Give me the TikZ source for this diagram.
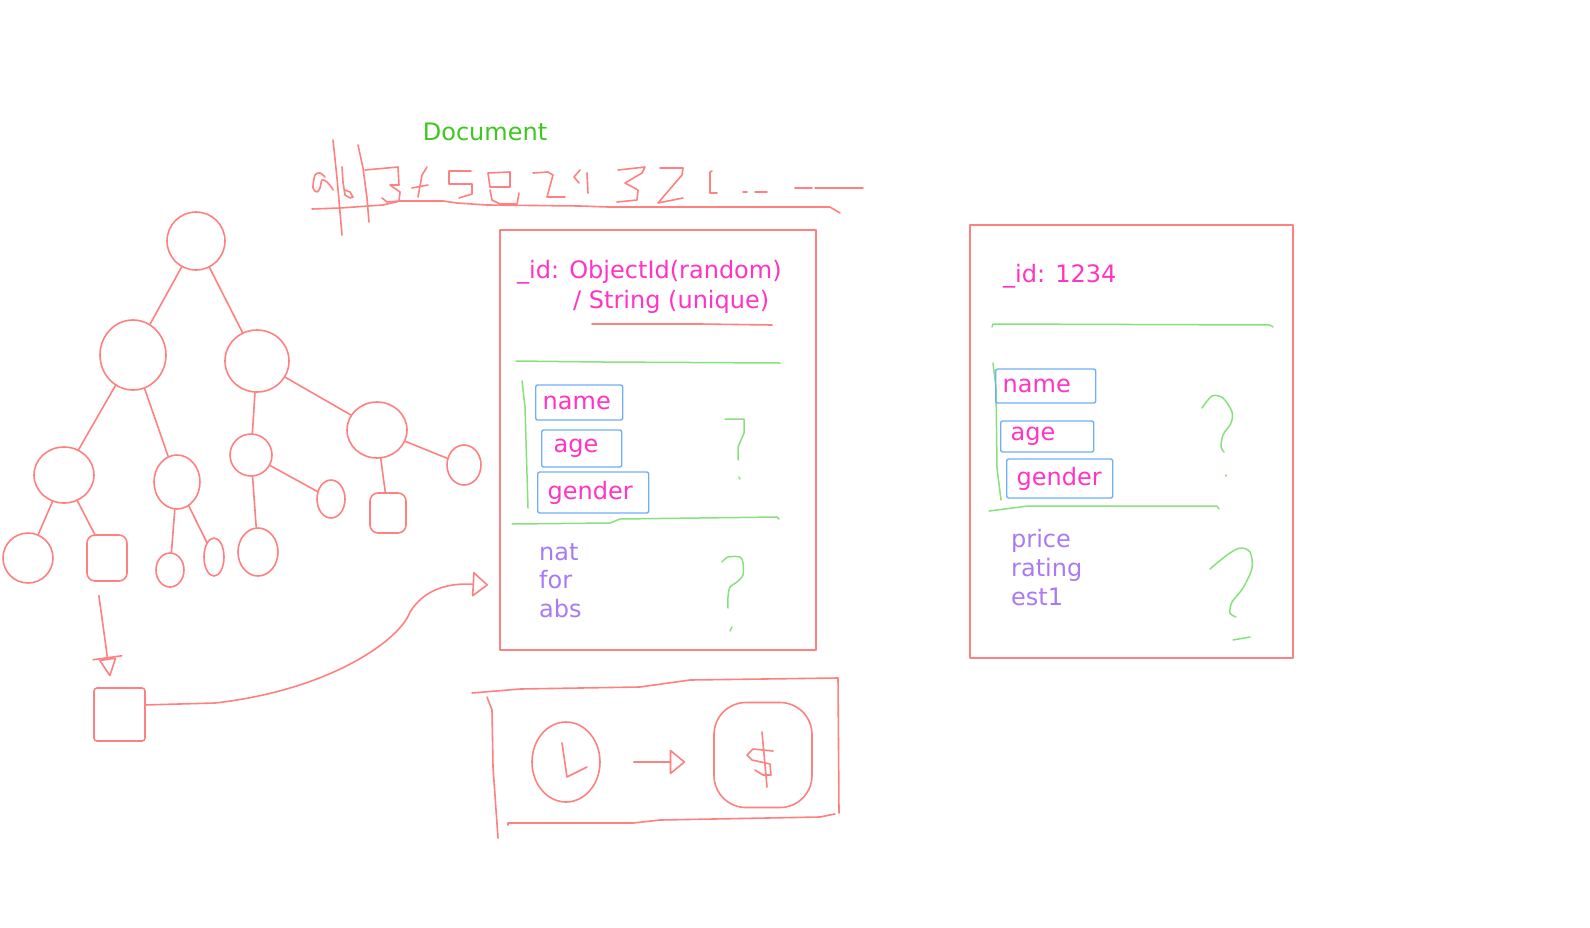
\documentclass[tikz,border=0pt]{standalone}
\usepackage{fontspec}
\setmainfont{DejaVu Sans}
\usepackage{tikz}
\usetikzlibrary{arrows.meta,shapes.geometric}
\definecolor{sketchRed}{HTML}{FF8080}
\definecolor{inkPink}{HTML}{FF33C4}
\definecolor{inkPurple}{HTML}{A97AF3}
\definecolor{inkGreen}{HTML}{88E07C}
\definecolor{docGreen}{HTML}{3CC81E}
\definecolor{inkBlue}{HTML}{70AEF8}

\begin{document}
\begin{tikzpicture}[
  x=1bp,y=-1bp,line cap=round,line join=round,
  pen/.style={draw=sketchRed,line width=1.6bp},
  chalk/.style={draw=inkGreen,line width=1.5bp},
  knot/.style={ellipse,draw=sketchRed,line width=1.6bp,inner sep=0pt},
  plate/.style={rectangle,draw=sketchRed,line width=1.6bp,inner sep=0pt},
  field/.style={rectangle,draw=inkBlue,line width=1.4bp,rounded corners=2bp,
    text=inkPink,anchor=west,align=left,inner ysep=0pt,
    font=\fontsize{24bp}{29bp}\selectfont},
  idtext/.style={text=inkPink,anchor=base west,inner sep=0pt,
    font=\fontsize{24bp}{29bp}\selectfont},
  extra/.style={text=inkPurple,anchor=base west,inner sep=0pt,
    font=\fontsize{24bp}{29bp}\selectfont},
  harrow/.style={-{Triangle[open,round,length=16bp,width=26bp,line width=1.6bp]}},
  tarrow/.style={-{Bar[width=30bp,sep=0pt,line width=1.6bp]Triangle[open,round,length=19bp,width=18bp,sep=0pt,line width=1.6bp]}}
]
\useasboundingbox (0,0) rectangle (1590,927);

% handwritten id
\node[text=docGreen,anchor=base,inner sep=0pt,font=\fontsize{24bp}{29bp}\selectfont] (title) at (485,140) {Document};
\draw[pen] (312,209) -- (340,208) -- (383,205) -- (400,201) -- (443,201) -- (457,203) -- (487,205)
  -- (580,206) -- (608,207) -- (725,207) -- (830,207) -- (840,213);
\draw[pen] (333,140) -- (337,178) -- (340,212) -- (342,235);
\draw[pen] (358,145) -- (363,168) -- (367,198) -- (369,222);
\draw[pen] plot[smooth] coordinates {(325,177) (320,173) (315,175) (313,188) (317,192) (320,188) (322,180) (327,182) (332,188) (333,190)};
\draw[pen] (342,167) -- (343,182) -- (345,195) -- (350,198) -- (353,197) -- (350,192) -- (345,190);
\draw[pen] (365,170) -- (398,167) -- (399,185) -- (390,185) -- (400,192) -- (399,201) -- (387,202) -- (382,198);
\draw[pen] (427,167) -- (422,175) -- (418,197); \draw[pen] (412,188) -- (428,185);
\draw[pen] (471,171) -- (449,171) -- (449,184) -- (472,184) -- (472,194) -- (459,198);
\draw[pen] (488,173) -- (510,172) -- (510,187) -- (490,187) -- cycle;
\draw[pen] (490,190) -- (492,200) -- (500,204) -- (517,204) -- (519,193);
\draw[pen] (533,173) -- (548,172) -- (553,175) -- (547,197) -- (565,197);
\draw[pen] (580,170) -- (574,177) -- (579,183); \draw[pen] (587,173) -- (588,193);
\draw[pen] (618,170) -- (645,167) -- (642,173) -- (625,183) -- (638,190) -- (637,200) -- (617,202);
\draw[pen] (660,168) -- (683,168) -- (682,175) -- (658,203) -- (683,198);
\draw[pen] (712,171) -- (710,172) -- (710,193) -- (717,193);
\draw[pen] (743,192) -- (747,192); \draw[pen] (755,192) -- (767,192);
\draw[pen] (795,188) -- (812,188); \draw[pen] (815,188) -- (863,188);

% tree
\node[knot,minimum width=58bp,minimum height=58bp] (root) at (196,241) {};
\node[knot,minimum width=66bp,minimum height=70bp] (l) at (133,355) {};
\node[knot,minimum width=64bp,minimum height=62bp] (r) at (257,361) {};
\node[knot,minimum width=60bp,minimum height=56bp] (ll) at (64,475) {};
\node[knot,minimum width=46bp,minimum height=54bp] (lr) at (177,482) {};
\node[knot,minimum width=42bp,minimum height=42bp] (rl) at (251,455) {};
\node[knot,minimum width=60bp,minimum height=56bp] (rr) at (377,430) {};
\node[knot,minimum width=50bp,minimum height=50bp] (lll) at (28,558) {};
\node[plate,rounded corners=8bp,minimum width=40bp,minimum height=46bp] (llr) at (107,558) {};
\node[knot,minimum width=28bp,minimum height=34bp] (lrl) at (170,570) {};
\node[knot,minimum width=20bp,minimum height=38bp] (lrr) at (214,557) {};
\node[knot,minimum width=40bp,minimum height=48bp] (rld) at (258,552) {};
\node[knot,minimum width=28bp,minimum height=38bp] (rlr) at (331,499) {};
\node[plate,rounded corners=8bp,minimum width=36bp,minimum height=40bp] (rrd) at (388,513) {};
\node[knot,minimum width=34bp,minimum height=40bp] (rrr) at (464,465) {};
\draw[pen] (root) -- (l); \draw[pen] (root) -- (r);
\draw[pen] (l) -- (ll); \draw[pen] (l) -- (lr);
\draw[pen] (r) -- (rl); \draw[pen] (r) -- (rr);
\draw[pen] (ll) -- (lll); \draw[pen] (ll) -- (llr);
\draw[pen] (lr) -- (lrl); \draw[pen] (lr) -- (lrr);
\draw[pen] (rl) -- (rld); \draw[pen] (rl) -- (rlr);
\draw[pen] (rr) -- (rrd); \draw[pen] (rr) -- (rrr);

\node[plate,rounded corners=3bp,minimum width=51bp,minimum height=53bp] (blob) at (119.5,714.5) {};
\draw[pen,tarrow,shorten <=14bp,shorten >=11bp] ([xshift=-10bp]llr.south) -- ([xshift=-8bp]blob.north);
\coordinate (tipA) at (488,585);
\draw[pen,harrow] (blob.20) -- (215,703) .. controls (330,690) and (400,640) .. (410,612)
  .. controls (425,588) and (450,583) .. (tipA);

% documents
\node[plate,minimum width=316bp,minimum height=420bp] (doc1) at (658,440) {};
\node[plate,minimum width=323bp,minimum height=433bp] (doc2) at (1131.5,441.5) {};

\node[idtext] (id1) at (517,278) {\_id: ObjectId(random)};
\node[idtext] (id1b) at (573,308) {/ String (unique)};
\draw[pen] (592,324) -- (700,324) -- (772,325);
\draw[chalk] (516,361) -- (602,362) -- (780,363);
\draw[chalk] (522,381) -- (525,407) -- (528,508);
\node[field,inner xsep=7bp,text width=73bp,minimum height=35bp] (name1) at (535,402.5) {name};
\node[field,inner xsep=12bp,text width=56bp,minimum height=37bp] (age1) at (541,448.5) {age};
\node[field,inner xsep=10bp,text width=91bp,minimum height=41bp] (gender1) at (537,492.5) {gender};
\draw[chalk] (512,524) -- (610,523) -- (620,519) -- (777,517) -- (779,519);
\draw[chalk] (725,419) -- (744,419) -- (744,433) -- (738,447) -- (738,460);
\draw[chalk] (739,477) -- (740,479);
\foreach \t [count=\i] in {nat,for,abs}
  \node[extra] (more1-\i) at (539,{560+28.5*(\i-1)}) {\t};
\draw[chalk] plot[smooth] coordinates {(722,562) (728,557) (740,557) (743,563) (743,575) (737,582) (730,587) (728,597) (728,608)};
\draw[chalk] (730,631) -- (732,627);

\node[idtext] (id2) at (1003,282) {\_id: 1234};
\draw[chalk] (992,327) -- (993,324) -- (1270,325) -- (1273,327);
\draw[chalk] (993,363) -- (996,388) -- (997,468) -- (1001,500);
\node[field,inner xsep=7bp,text width=86bp,minimum height=34bp] (name2) at (995,386) {name};
\node[field,inner xsep=10bp,text width=73bp,minimum height=31bp] (age2) at (1000,436.5) {age};
\node[field,inner xsep=10bp,text width=86bp,minimum height=39bp] (gender2) at (1006,478.5) {gender};
\draw[chalk] (989,511) -- (1028,506) -- (1217,506) -- (1219,509);
\draw[chalk] plot[smooth] coordinates {(1202,408) (1212,396) (1223,398) (1232,412) (1231,423) (1223,435) (1221,447) (1224,452)};
\draw[chalk] (1226,475) -- (1226,476);
\foreach \t [count=\i] in {price,rating,est1}
  \node[extra] (more2-\i) at (1011,{547+29*(\i-1)}) {\t};
\draw[chalk] plot[smooth] coordinates {(1210,569) (1227,555) (1240,548) (1250,552) (1252,568) (1243,588) (1232,602) (1230,613) (1236,617)};
\draw[chalk] (1233,640) -- (1250,637);

% conversion
\draw[pen] (472,693) -- (520,689) -- (640,687) -- (690,680) -- (838,678) -- (839,813);
\draw[pen] (487,697) -- (492,710) -- (493,767) -- (498,838);
\draw[pen] (508,825) -- (508,823) -- (633,823) -- (660,820) -- (820,817) -- (835,814);
\node[knot,minimum width=68bp,minimum height=80bp] (clock) at (566,762) {};
\draw[pen] (562,743) -- (567,777) -- (587,767);
\node[plate,rounded corners=32bp,minimum width=98bp,minimum height=105bp] (dollar) at (763,755) {};
\draw[pen] (762,732) -- (767,787);
\draw[pen] (773,751) -- (753,749) -- (747,755) -- (752,760) -- (770,764) -- (771,775) -- (763,775) -- (755,770);
\draw[pen,harrow,shorten <=33bp,shorten >=28bp] (clock.east) -- (clock.east -| dollar.west);
\end{tikzpicture}
\end{document}
